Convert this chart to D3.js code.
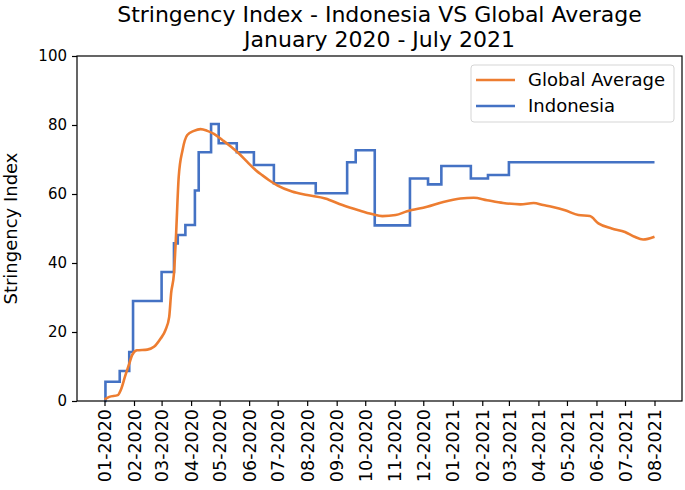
<!DOCTYPE html>
<html>
<head>
<meta charset="utf-8">
<script src="https://cdn.jsdelivr.net/npm/d3@7"></script>
<style>
  body { margin: 0; background: #fff; }
  svg { font-family: "DejaVu Sans", sans-serif; }
</style>
</head>
<body>
<div id="chart"></div>
<script>

var width = 685,
height = 490;
var margin = {top: 56, left: 77, bottom: 89, right: 3};

// Indonesia stringency (step changes)
var indoDates = ["2020-01-01","2020-01-02","2020-01-17","2020-01-27","2020-01-31","2020-03-01","2020-03-14","2020-03-18","2020-03-26","2020-04-05","2020-04-09","2020-04-22","2020-04-30","2020-05-19","2020-06-06","2020-06-27","2020-08-10","2020-09-12","2020-09-21","2020-10-11","2020-11-17","2020-12-06","2020-12-20","2021-01-20","2021-02-07","2021-03-01","2021-08-01"];
var indoValues = [0, 5.6, 8.7, 14.2, 29.0, 37.4, 45.7, 48.1, 51.0, 61.0, 72.1, 80.3, 74.7, 72.1, 68.4, 63.1, 60.2, 69.2, 72.7, 50.9, 64.5, 62.8, 68.1, 64.5, 65.5, 69.2, 69.2];

// Global average stringency
var globalDates = ["2020-01-01","2020-01-06","2020-01-15","2020-01-18","2020-01-23","2020-01-27","2020-01-30","2020-02-04","2020-02-15","2020-02-22","2020-02-29","2020-03-05","2020-03-09","2020-03-11","2020-03-14","2020-03-16","2020-03-19","2020-03-23","2020-03-28","2020-04-04","2020-04-11","2020-04-18","2020-04-25","2020-05-04","2020-05-13","2020-05-21","2020-05-30","2020-06-08","2020-06-15","2020-06-22","2020-07-01","2020-07-16","2020-08-01","2020-08-20","2020-09-07","2020-09-24","2020-10-08","2020-10-19","2020-11-02","2020-11-14","2020-12-05","2020-12-22","2021-01-09","2021-01-23","2021-02-06","2021-02-23","2021-03-13","2021-03-27","2021-04-06","2021-04-15","2021-04-29","2021-05-13","2021-05-25","2021-06-03","2021-06-17","2021-07-01","2021-07-11","2021-07-20","2021-08-01"];
var globalValues = [0.5, 1.2, 1.7, 3.1, 7.5, 10.8, 13.3, 14.7, 14.9, 15.7, 18.1, 20.5, 24.4, 31.2, 37.0, 47.0, 65.0, 72.7, 77.1, 78.3, 78.8, 78.3, 77.4, 75.6, 73.7, 71.8, 69.3, 66.9, 65.4, 64.0, 62.4, 60.7, 59.7, 58.7, 56.8, 55.3, 54.2, 53.6, 53.9, 55.0, 56.3, 57.7, 58.7, 58.9, 58.2, 57.4, 57.0, 57.4, 56.8, 56.3, 55.3, 53.9, 53.6, 51.5, 50.0, 49.0, 47.6, 46.8, 47.6];

var yTicks = [0, 20, 40, 60, 80, 100];
var legendLabels = ["Global Average", "Indonesia"];
var colors = ["#ED7D31", "#4472C4"];

var parse = d3.timeParse("%Y-%m-%d");
var indo = indoDates.map(function(d, i) { return {date: parse(d), value: indoValues[i]}; });
var global = globalDates.map(function(d, i) { return {date: parse(d), value: globalValues[i]}; });

var svg = d3.select("#chart").append("svg")
.attr("width", width)
.attr("height", height);

// matplotlib style 5% margins on x
var ext = d3.extent(indo.concat(global), function(d) { return d.date; });
var pad = (ext[1] - ext[0]) * 0.05;

var x = d3.scaleTime()
    .domain([new Date(+ext[0] - pad), new Date(+ext[1] + pad)])
    .range([margin.left, width - margin.right]);

var y = d3.scaleLinear()
    .domain([0, 100])
    .range([height - margin.bottom, margin.top]);

var monthTicks = d3.timeMonth.range(parse("2020-01-01"), parse("2021-08-02"));

// lines
var line = d3.line()
    .x(function(d) { return x(d.date); })
    .y(function(d) { return y(d.value); });

svg.append("path")
    .datum(indo)
    .attr("fill", "none")
    .attr("stroke", colors[1])
    .attr("stroke-width", 2.6)
    .attr("d", line.curve(d3.curveStepAfter));

svg.append("path")
    .datum(global)
    .attr("fill", "none")
    .attr("stroke", colors[0])
    .attr("stroke-width", 2.6)
    .attr("stroke-linejoin", "round")
    .attr("d", line.curve(d3.curveMonotoneX));

// frame
svg.append("rect")
    .attr("x", margin.left)
    .attr("y", margin.top)
    .attr("width", width - margin.left - margin.right)
    .attr("height", height - margin.top - margin.bottom)
    .attr("fill", "none")
    .attr("stroke", "#000")
    .attr("stroke-width", 1.2);

// axes
var xAxis = svg.append("g")
    .attr("transform", "translate(0," + (height - margin.bottom) + ")")
    .call(d3.axisBottom(x)
      .tickValues(monthTicks)
      .tickFormat(d3.timeFormat("%m-%Y"))
      .tickSize(5)
      .tickSizeOuter(0));
xAxis.select(".domain").remove();
xAxis.selectAll(".tick line").attr("stroke-width", 1.2);
xAxis.selectAll(".tick text")
    .attr("font-size", 17.5)
    .attr("font-family", "DejaVu Sans")
    .attr("fill", "#000")
    .attr("text-anchor", "end")
    .attr("transform", "rotate(-90)")
    .attr("x", -8)
    .attr("y", 0)
    .attr("dy", "0.35em");

var yAxis = svg.append("g")
    .attr("transform", "translate(" + margin.left + ",0)")
    .call(d3.axisLeft(y)
      .tickValues(yTicks)
      .tickSize(5)
      .tickSizeOuter(0));
yAxis.select(".domain").remove();
yAxis.selectAll(".tick line").attr("stroke-width", 1.2);
yAxis.selectAll(".tick text")
    .attr("font-size", 15)
    .attr("font-family", "DejaVu Sans")
    .attr("fill", "#000")
    .attr("x", -10);

// y label
svg.append("text")
    .attr("transform", "translate(17," + ((margin.top + height - margin.bottom) / 2) + ") rotate(-90)")
    .attr("text-anchor", "middle")
    .attr("font-size", 18)
    .text("Stringency Index");

// title
var cx = (margin.left + width - margin.right) / 2;
svg.append("text")
    .attr("x", cx)
    .attr("y", 22)
    .attr("text-anchor", "middle")
    .attr("font-size", 22)
    .text("Stringency Index - Indonesia VS Global Average");
svg.append("text")
    .attr("x", cx)
    .attr("y", 47)
    .attr("text-anchor", "middle")
    .attr("font-size", 22)
    .text("January 2020 - July 2021");

// legend
var legend = svg.append("g")
    .attr("transform", "translate(471,65)");

legend.append("rect")
    .attr("width", 203)
    .attr("height", 57)
    .attr("rx", 3)
    .attr("fill", "#fff")
    .attr("fill-opacity", 0.8)
    .attr("stroke", "#d5d5d5");

legend.selectAll("line")
    .data(legendLabels)
    .enter().append("line")
    .attr("x1", 5)
    .attr("x2", 44)
    .attr("y1", function(d, i) { return 15 + i * 26; })
    .attr("y2", function(d, i) { return 15 + i * 26; })
    .attr("stroke", function(d, i) { return colors[i]; })
    .attr("stroke-width", 2.6);

legend.selectAll("text")
    .data(legendLabels)
    .enter().append("text")
    .attr("x", 57)
    .attr("y", function(d, i) { return 15 + i * 26; })
    .attr("dy", "0.35em")
    .attr("font-size", 18)
    .text(function(d) { return d; });

</script>
</body>
</html>
